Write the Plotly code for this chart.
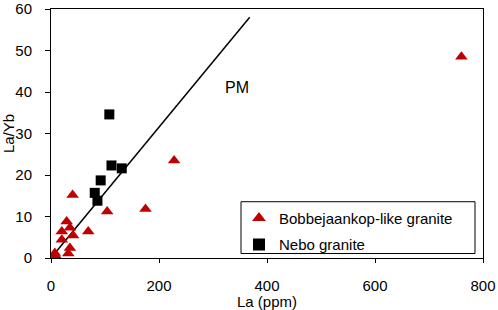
import plotly.graph_objects as go

# Bobbejaankop-like granite (La ppm, La/Yb)
bob_la = [760, 228, 175, 104, 40, 69, 29, 20, 35, 41, 20, 35, 32, 7, 4, 10]
bob_layb = [48.5, 23.5, 11.8, 11.2, 15.2, 6.4, 8.8, 6.4, 7.3, 5.4, 4.4, 2.4, 1.1, 1.2, 0.2, 0.3]

# Nebo granite
nebo_la = [108, 112, 131, 92, 81, 86]
nebo_layb = [34.6, 22.3, 21.6, 18.7, 15.7, 13.8]

# PM reference line
pm_la = [0, 368]
pm_layb = [0, 58]

x_ticks = [0, 200, 400, 600, 800]
y_ticks = [0, 10, 20, 30, 40, 50, 60]

red = "#C00000"
font = "Liberation Sans, Arial, sans-serif"

fig = go.Figure()
fig.add_trace(go.Scatter(x=pm_la, y=pm_layb, mode="lines",
                         line=dict(color="black", width=1.5), showlegend=False,
                         hoverinfo="skip"))
fig.add_trace(go.Scatter(x=bob_la, y=bob_layb, mode="markers", name="Bobbejaankop-like granite",
                         marker=dict(symbol="triangle-up", size=11, color=red, line=dict(width=0)),
                         legendgroup="a"))
fig.add_trace(go.Scatter(x=nebo_la, y=nebo_layb, mode="markers", name="Nebo granite",
                         marker=dict(symbol="square", size=10, color="black", line=dict(width=0)),
                         legendgroup="b"))

fig.add_annotation(x=344, y=41, text="PM", showarrow=False,
                   font=dict(size=16, color="black", family=font))

# legend frame
fig.add_shape(type="rect", xref="paper", yref="paper",
              x0=(241 - 51) / 432, x1=(475 - 51) / 432,
              y0=(258.5 - 254) / 250, y1=(258.5 - 202) / 250,
              line=dict(color="black", width=1), fillcolor="white", layer="below")

fig.update_layout(
    width=498, height=310,
    margin=dict(l=51, r=15, t=8.5, b=51.5),
    paper_bgcolor="white", plot_bgcolor="white",
    font=dict(family=font, size=15, color="black"),
    legend=dict(x=(239 - 51) / 432, y=(258.5 - 202) / 250, xanchor="left", yanchor="top",
                bgcolor="rgba(0,0,0,0)", borderwidth=0, font=dict(size=15),
                tracegroupgap=4, traceorder="grouped", itemsizing="constant"),
    xaxis=dict(range=[0, 800], tickvals=x_ticks, showgrid=False, zeroline=False,
               showline=True, linecolor="black", linewidth=1, mirror=True,
               ticks="outside", ticklen=4, tickcolor="black", automargin=False,
               tickfont=dict(size=15), ticklabelstandoff=10,
               title=dict(text="La (ppm)", font=dict(size=15), standoff=10)),
    yaxis=dict(range=[0, 60], tickvals=y_ticks, showgrid=False, zeroline=False,
               showline=True, linecolor="black", linewidth=1, mirror=True,
               ticks="outside", ticklen=5, tickcolor="black", automargin=False,
               tickfont=dict(size=15), ticklabelstandoff=10,
               title=dict(text="La/Yb", font=dict(size=15), standoff=14)),
)

fig.write_html("out.html", config={"displayModeBar": False},
               post_script="document.body.style.margin='0';")
